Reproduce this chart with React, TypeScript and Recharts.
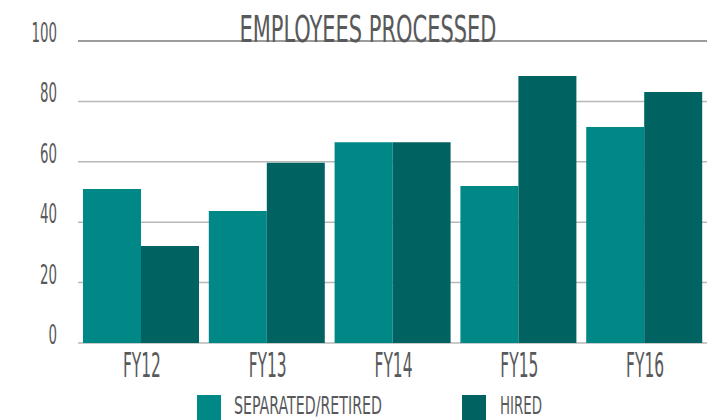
import React from "react";
import { BarChart, Bar, XAxis, YAxis, CartesianGrid, Legend, ReferenceLine } from "recharts";

const years = ["FY12", "FY13", "FY14", "FY15", "FY16"];
const separated = [51, 43.7, 66.5, 52, 71.5];
const hired = [32.1, 59.7, 66.5, 88.4, 83.1];
const yTicks = [0, 20, 40, 60, 80, 100];

const data = years.map((y, i) => ({ year: y, separated: separated[i], hired: hired[i] }));

const sepColor = "#008887";
const hiredColor = "#006261";
const textColor = "#58595b";
const font = "'Liberation Sans Narrow', 'DejaVu Sans Condensed', sans-serif";

function YTick({ x, y, payload }: any) {
  const label = String(payload.value);
  return (
    <text
      x={x - 21}
      y={y + 1}
      textAnchor="end"
      fill={textColor}
      fontFamily={font}
      fontSize={26}
      textLength={label.length * 8.5}
      lengthAdjust="spacingAndGlyphs"
    >
      {label}
    </text>
  );
}

function XTick({ x, y, payload }: any) {
  return (
    <text
      x={x + 1}
      y={y + 34}
      textAnchor="middle"
      fill={textColor}
      fontFamily={font}
      fontSize={33}
      textLength={38}
      lengthAdjust="spacingAndGlyphs"
    >
      {payload.value}
    </text>
  );
}

function LegendBox() {
  return (
    <svg width={707} height={25} style={{ display: "block", overflow: "visible" }}>
      <rect x={197} y={0} width={24} height={25} fill={sepColor} />
      <text x={234} y={19} fill={textColor} fontFamily={font} fontSize={24} textLength={148} lengthAdjust="spacingAndGlyphs">
        SEPARATED/RETIRED
      </text>
      <rect x={462} y={0} width={24} height={25} fill={hiredColor} />
      <text x={500} y={19} fill={textColor} fontFamily={font} fontSize={24} textLength={42} lengthAdjust="spacingAndGlyphs">
        HIRED
      </text>
    </svg>
  );
}

export default function App() {
  return (
    <div style={{ position: "absolute", left: 0, top: 0, width: 707, height: 420, background: "#fff", overflow: "hidden" }}>
      <BarChart
        width={707}
        height={420}
        data={data}
        margin={{ top: 41, right: 0, bottom: 0, left: 1 }}
        barGap={0}
      >
        <CartesianGrid horizontal vertical={false} stroke="#b8b8b8" strokeWidth={1.5} />
        <ReferenceLine y={100} stroke="#8c8c8c" strokeWidth={1.5} />
        <XAxis
          dataKey="year"
          height={52}
          tickLine={false}
          axisLine={false}
          tickSize={0}
          tickMargin={0}
          tick={<XTick />}
          interval={0}
        />
        <YAxis
          width={77}
          domain={[0, 100]}
          ticks={yTicks}
          tickLine={false}
          axisLine={false}
          tickSize={0}
          tickMargin={0}
          tick={<YTick />}
          interval={0}
        />
        <Legend
          verticalAlign="bottom"
          height={25}
          wrapperStyle={{ left: 0, bottom: 0, width: 707, height: 25 }}
          content={<LegendBox />}
        />
        <Bar dataKey="separated" fill={sepColor} barSize={58} isAnimationActive={false} />
        <Bar dataKey="hired" fill={hiredColor} barSize={58} isAnimationActive={false} />
      </BarChart>
      <svg width={707} height={60} style={{ position: "absolute", left: 0, top: 0, pointerEvents: "none" }}>
        <text
          x={368}
          y={42}
          textAnchor="middle"
          fill={textColor}
          fontFamily={font}
          fontSize={37}
          textLength={257}
          lengthAdjust="spacingAndGlyphs"
        >
          EMPLOYEES PROCESSED
        </text>
      </svg>
    </div>
  );
}
